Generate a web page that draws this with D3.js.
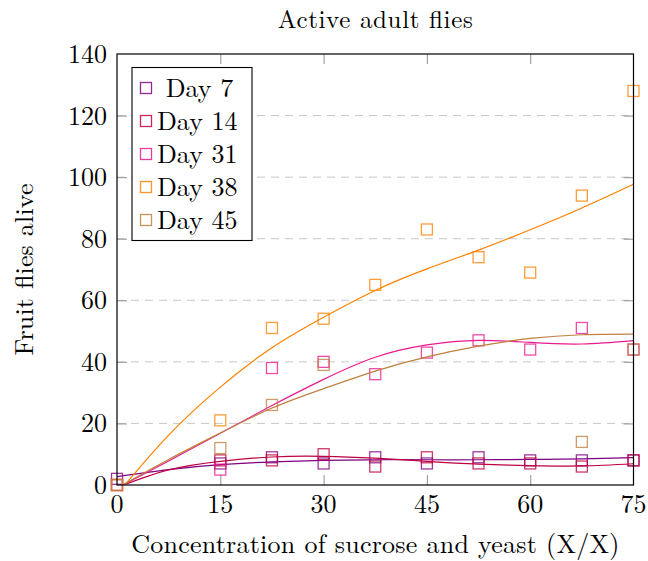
<!DOCTYPE html>
<html>
<head>
<meta charset="utf-8">
<script src="https://cdn.jsdelivr.net/npm/d3@7"></script>
<style>
  html, body { margin: 0; padding: 0; background: #fff; }
  svg { display: block; }
  text { font-family: "Latin Modern Roman", "CMU Serif", "Liberation Serif", serif; fill: #000; }
</style>
</head>
<body>
<svg id="chart" width="648" height="561"></svg>
<script>
// ---- data ----
const xValues = [0, 15, 22.5, 30, 37.5, 45, 52.5, 60, 67.5, 75];
const day7  = [2, 7, 9, 7, 9, 7, 9, 8, 8, 8];
const day14 = [0, 8, 8, 10, 6, 9, 7, 7, 6, 8];
const day31 = [0, 5, 38, 40, 36, 43, 47, 44, 51, 44];
const day38 = [0, 21, 51, 54, 65, 83, 74, 69, 94, 128];
const day45 = [0, 12, 26, 39, null, null, null, null, 14, 44];

// trend lines
const trendX  = [0, 7.5, 15, 22.5, 30, 37.5, 45, 52.5, 60, 67.5, 75];
const trend7  = [2.7, 5.0, 6.6, 7.5, 8.0, 8.2, 8.2, 8.2, 8.3, 8.5, 8.9];
const trend14 = [-0.8, 4.9, 7.7, 9.1, 9.3, 8.7, 7.7, 6.8, 6.3, 6.2, 6.9];
const trend31 = [-1, 7.8, 16.8, 25.8, 34.3, 41.5, 45.5, 47.0, 46.3, 45.8, 46.9];
const trend38 = [-3, 16.2, 31.8, 44.6, 54.5, 63.2, 70.2, 76.3, 82.9, 90.0, 97.7];
const trend45 = [-1, 8.3, 16.9, 25.0, 31.3, 37.0, 41.6, 45.1, 47.6, 48.8, 49.0];

const seriesNames = [" Day 7", "Day 14", "Day 31", "Day 38", "Day 45"];
const seriesColors = ["#800080", "#bf0040", "#ea1a8e", "#ff8000", "#bf8040"];
const xTicks = [0, 15, 30, 45, 60, 75];
const yTicks = [0, 20, 40, 60, 80, 100, 120, 140];
const titleText = "Active adult flies";
const xLabelText = "Concentration of sucrose and yeast (X/X)";
const yLabelText = "Fruit flies alive";

const pointSeries = [day7, day14, day31, day38, day45];
const trendSeries = [trend7, trend14, trend31, trend38, trend45];

// ---- layout ----
const L = 117, R = 633.5, T = 54, B = 485;
const svg = d3.select("#chart");
const x = d3.scaleLinear().domain([0, 75]).range([L, R]);
const y = d3.scaleLinear().domain([0, 140]).range([B, T]);

svg.append("defs").append("clipPath").attr("id", "plotclip")
  .append("rect").attr("x", L).attr("y", T).attr("width", R - L).attr("height", B - T);

// grid
svg.append("g").selectAll("line").data(yTicks.filter(d => d > 0 && d < 140)).join("line")
  .attr("x1", L).attr("x2", R).attr("y1", d => y(d)).attr("y2", d => y(d))
  .attr("stroke", "#c8c8c8").attr("stroke-width", 1).attr("stroke-dasharray", "8,6");

// ticks (inside, gray) using d3 axes
const tickLen = 10;
const axB = svg.append("g").attr("transform", `translate(0,${B})`)
  .call(d3.axisTop(x).tickValues(xTicks.slice(1, -1)).tickSize(tickLen).tickFormat(""));
const axT = svg.append("g").attr("transform", `translate(0,${T})`)
  .call(d3.axisBottom(x).tickValues(xTicks.slice(1, -1)).tickSize(tickLen).tickFormat(""));
const axL = svg.append("g").attr("transform", `translate(${L},0)`)
  .call(d3.axisRight(y).tickValues(yTicks.slice(1, -1)).tickSize(tickLen).tickFormat(""));
const axR = svg.append("g").attr("transform", `translate(${R},0)`)
  .call(d3.axisLeft(y).tickValues(yTicks.slice(1, -1)).tickSize(tickLen).tickFormat(""));
[axB, axT, axL, axR].forEach(g => {
  g.select(".domain").remove();
  g.selectAll(".tick line").attr("stroke", "#9a9a9a").attr("stroke-width", 1.1);
});

// tick labels
svg.append("g").selectAll("text").data(xTicks).join("text")
  .attr("x", d => x(d)).attr("y", B + 28)
  .attr("text-anchor", "middle").attr("font-size", 26).text(d => d);
svg.append("g").selectAll("text").data(yTicks).join("text")
  .attr("x", L - 10).attr("y", d => y(d) + 9)
  .attr("text-anchor", "end").attr("font-size", 26).text(d => d);

// series
const line = d3.line().defined(d => d[1] != null)
  .x(d => x(d[0])).y(d => y(d[1])).curve(d3.curveNatural);
const plots = svg.append("g");
pointSeries.forEach((vals, i) => {
  const col = seriesColors[i];
  const pts = xValues.map((xv, j) => [xv, vals[j]]).filter(d => d[1] != null);
  plots.append("g").selectAll("rect").data(pts).join("rect")
    .attr("x", d => x(d[0]) - 5.5).attr("y", d => y(d[1]) - 5.5)
    .attr("width", 11).attr("height", 11)
    .attr("fill", "none").attr("stroke", col).attr("stroke-width", 1.3)
    .attr("stroke-opacity", 0.78);
  plots.append("path")
    .datum(trendX.map((xv, j) => [xv, trendSeries[i][j]]))
    .attr("clip-path", "url(#plotclip)")
    .attr("d", line).attr("fill", "none").attr("stroke", col).attr("stroke-width", 1.2);
});

// frame
svg.append("rect").attr("x", L).attr("y", T).attr("width", R - L).attr("height", B - T)
  .attr("fill", "none").attr("stroke", "#000").attr("stroke-width", 1.2);

// legend
const lg = svg.append("g");
lg.append("rect").attr("x", 132).attr("y", 67.5).attr("width", 120).attr("height", 173)
  .attr("fill", "#fff").attr("stroke", "#000").attr("stroke-width", 1.1);
seriesNames.forEach((name, i) => {
  const cy = 88 + i * 33;
  lg.append("rect").attr("x", 140.5).attr("y", cy - 5.5).attr("width", 11).attr("height", 11)
    .attr("fill", "none").attr("stroke", seriesColors[i]).attr("stroke-width", 1.3).attr("stroke-opacity", 0.85);
  lg.append("text").attr("x", 157).attr("y", cy + 9).attr("font-size", 26)
    .style("white-space", "pre").text(name);
});

// title and axis labels
svg.append("text").attr("x", (L + R) / 2).attr("y", 28).attr("text-anchor", "middle")
  .attr("font-size", 25).attr("textLength", 195).attr("lengthAdjust", "spacing").text(titleText);
svg.append("text").attr("x", (L + R) / 2).attr("y", 553).attr("text-anchor", "middle")
  .attr("font-size", 26).attr("textLength", 488).attr("lengthAdjust", "spacing").text(xLabelText);
svg.append("text").attr("transform", `translate(33,${(T + B) / 2}) rotate(-90)`)
  .attr("text-anchor", "middle").attr("font-size", 26)
  .attr("textLength", 172).attr("lengthAdjust", "spacing").text(yLabelText);
</script>
</body>
</html>
